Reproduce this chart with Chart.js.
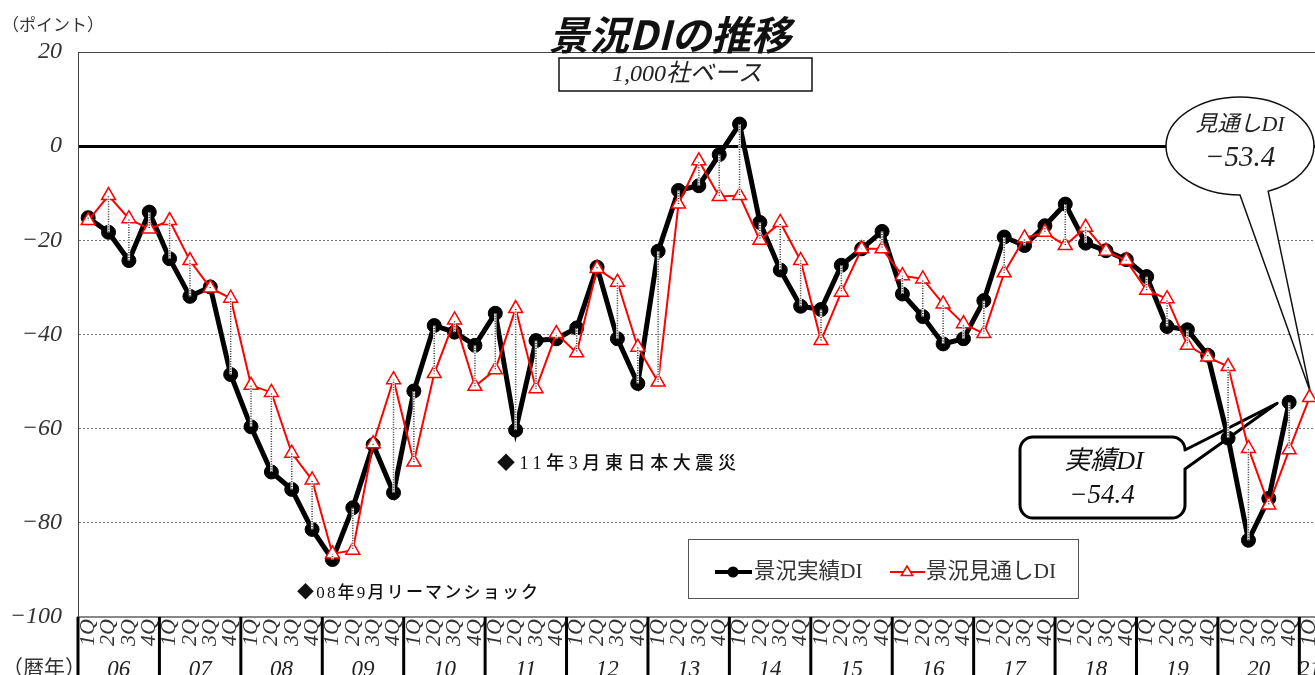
<!DOCTYPE html>
<html lang="ja">
<head>
<meta charset="utf-8">
<title>景況DIの推移</title>
<script src="https://cdn.jsdelivr.net/npm/chart.js@4/dist/chart.umd.min.js"></script>
<style>
  html, body { margin: 0; padding: 0; background: #fff; overflow: hidden; }
  #chart { display: block; }
</style>
</head>
<body>
<canvas id="chart" width="1338" height="675"></canvas>
<script>
// quarterly data, 2006 1Q .. 2021 1Q
const years = ['06', '07', '08', '09', '10', '11', '12', '13', '14', '15', '16', '17', '18', '19', '20', '21'];
const quarterNames = ['1Q', '2Q', '3Q', '4Q'];

const actualDI = [
  -15.2, -18.3, -24.3, -14.0,
  -23.9, -31.9, -29.9, -48.5,
  -59.6, -69.2, -72.9, -81.4,
  -87.8, -76.8, -63.4, -73.6,
  -52.0, -38.1, -39.5, -42.3,
  -35.5, -60.3, -41.3, -40.9,
  -38.6, -25.7, -40.9, -50.4,
  -22.3, -9.4, -8.4, -1.8,
  4.7, -16.2, -26.3, -34.0,
  -34.7, -25.3, -21.8, -18.1,
  -31.4, -36.2, -42.0, -40.9,
  -32.8, -19.3, -21.1, -16.9,
  -12.3, -20.6, -22.2, -24.1,
  -27.7, -38.3, -39.0, -44.4,
  -62.0, -83.7, -74.8, -54.4,
  null
];

const outlookDI = [
  -15.8, -10.5, -15.4, -17.6,
  -15.8, -24.3, -30.1, -32.3,
  -50.8, -52.3, -65.2, -70.9,
  -86.6, -85.8, -63.2, -49.6,
  -67.1, -48.3, -36.9, -51.0,
  -47.5, -34.5, -51.5, -39.8,
  -43.9, -26.0, -28.9, -42.7,
  -50.1, -12.3, -3.1, -10.7,
  -10.5, -20.0, -16.2, -24.3,
  -41.3, -31.0, -21.8, -21.8,
  -27.5, -28.2, -33.5, -37.7,
  -39.8, -26.9, -19.5, -18.3,
  -21.1, -17.2, -22.3, -24.3,
  -30.6, -32.4, -42.3, -44.8,
  -46.8, -64.2, -76.2, -64.5,
  -53.4
];

const yMin = -100;
const yMax = 20;
const yStep = 20;

const labels = outlookDI.map((v, i) => quarterNames[i % 4]);

const serifItalic = size => `italic ${size}px "Liberation Serif", "Noto Sans CJK JP", serif`;
const jpFont = (size, weight) => `${weight || 'normal'} ${size}px "Liberation Serif", "Noto Sans CJK JP", sans-serif`;

function drawText(ctx, text, x, y, font, align, color, spacing) {
  ctx.save();
  ctx.font = font;
  ctx.fillStyle = color || '#000';
  ctx.textAlign = align || 'center';
  ctx.textBaseline = 'middle';
  if (spacing) ctx.letterSpacing = spacing + 'px';
  ctx.fillText(text, x, y);
  ctx.restore();
}

function triangleMarker(ctx, x, y, r) {
  ctx.beginPath();
  ctx.moveTo(x, y - r);
  ctx.lineTo(x + r * 0.95, y + r * 0.6);
  ctx.lineTo(x - r * 0.95, y + r * 0.6);
  ctx.closePath();
  ctx.fillStyle = '#fff';
  ctx.fill();
  ctx.strokeStyle = '#ff0000';
  ctx.lineWidth = 1.5;
  ctx.stroke();
}

const callouts = {
  id: 'callouts',
  beforeDatasetsDraw(chart) {
    const ctx = chart.ctx;
    const xs = chart.scales.x;
    const ys = chart.scales.y;
    const last = outlookDI.length - 1;

    // outlook bubble (ellipse with tail)
    const tip1 = { x: xs.getPixelForValue(last) + 1, y: ys.getPixelForValue(outlookDI[last]) - 5 };
    const cx = 1240, cy = 146, rx = 74, ry = 49;
    ctx.save();
    ctx.beginPath();
    ctx.ellipse(cx, cy, rx, ry, 0, Math.PI / 2, 1.18);
    ctx.lineTo(tip1.x, tip1.y);
    ctx.closePath();
    ctx.fillStyle = '#fff';
    ctx.fill();
    ctx.strokeStyle = '#111';
    ctx.lineWidth = 1.5;
    ctx.stroke();
    ctx.restore();
    drawText(ctx, '見通しDI', cx, 125, serifItalic(22), 'center', '#222');
    drawText(ctx, '−53.4', cx, 158, serifItalic(29), 'center', '#222');

    // actual callout (rounded box with tail)
    const idx = actualDI.length - 2;
    const tip2 = { x: xs.getPixelForValue(idx) - 12, y: ys.getPixelForValue(actualDI[idx]) + 1 };
    const l = 1020, t = 437, r = 1185, b = 518, rad = 13;
    ctx.save();
    ctx.beginPath();
    ctx.moveTo(l + rad, t);
    ctx.lineTo(r - rad, t);
    ctx.arcTo(r, t, r, t + rad, rad);
    ctx.lineTo(r, t + rad);
    ctx.lineTo(tip2.x, tip2.y);
    ctx.lineTo(r, t + 32);
    ctx.lineTo(r, b - rad);
    ctx.arcTo(r, b, r - rad, b, rad);
    ctx.lineTo(l + rad, b);
    ctx.arcTo(l, b, l, b - rad, rad);
    ctx.lineTo(l, t + rad);
    ctx.arcTo(l, t, l + rad, t, rad);
    ctx.closePath();
    ctx.fillStyle = '#fff';
    ctx.fill();
    ctx.strokeStyle = '#000';
    ctx.lineWidth = 3;
    ctx.lineJoin = 'round';
    ctx.stroke();
    ctx.restore();
    drawText(ctx, '実績DI', 1104, 462, serifItalic(26), 'center', '#111');
    drawText(ctx, '−54.4', 1102, 496, serifItalic(27), 'center', '#111');
  }
};

const overlay = {
  id: 'overlay',
  afterDatasetsDraw(chart) {
    const ctx = chart.ctx;
    const xs = chart.scales.x;
    const ys = chart.scales.y;
    // dotted lines joining actual and outlook in each quarter
    ctx.save();
    outlookDI.forEach((v, i) => {
      const a = actualDI[i];
      if (a === null || v === null) return;
      const x = xs.getPixelForValue(i);
      const y1 = ys.getPixelForValue(a);
      const y2 = ys.getPixelForValue(v);
      ctx.beginPath();
      ctx.moveTo(x, y1);
      ctx.lineTo(x, y2);
      ctx.setLineDash([]);
      ctx.strokeStyle = 'rgba(255,255,255,0.9)';
      ctx.lineWidth = 2.5;
      ctx.stroke();
      ctx.setLineDash([1, 1.5]);
      ctx.strokeStyle = '#333';
      ctx.lineWidth = 1.5;
      ctx.stroke();
    });
    ctx.restore();
  },
  afterDraw(chart) {
    const ctx = chart.ctx;
    const xs = chart.scales.x;
    const area = chart.chartArea;
    const n = outlookDI.length;
    const half = (xs.getPixelForValue(1) - xs.getPixelForValue(0)) / 2;

    // year separators and year labels
    years.forEach((yr, k) => {
      const first = k * 4;
      if (first >= n) return;
      const lastQ = Math.min(first + 3, n - 1);
      const bx = xs.getPixelForValue(first) - half;
      ctx.save();
      ctx.beginPath();
      ctx.moveTo(bx, area.bottom);
      ctx.lineTo(bx, chart.height);
      ctx.strokeStyle = '#000';
      ctx.lineWidth = 3;
      ctx.stroke();
      ctx.restore();
      const cxYear = (xs.getPixelForValue(first) + xs.getPixelForValue(lastQ)) / 2;
      drawText(ctx, yr, cxYear, 670, serifItalic(23), 'center', '#222');
    });

    // axis captions
    drawText(ctx, '（ポイント）', 2, 27, jpFont(17), 'left', '#333');
    drawText(ctx, '（暦年）', 2, 669, jpFont(21), 'left', '#333');

    // title and subtitle box
    drawText(ctx, '景況DIの推移', 670, 35, 'italic bold 40px "Noto Sans CJK JP", sans-serif', 'center', '#111');
    ctx.save();
    ctx.fillStyle = '#fff';
    ctx.fillRect(559, 58, 253, 33);
    ctx.strokeStyle = '#111';
    ctx.lineWidth = 1.5;
    ctx.strokeRect(559, 58, 253, 33);
    ctx.restore();
    drawText(ctx, '1,000社ベース', 687, 75, serifItalic(24), 'center', '#222');

    // event notes
    drawText(ctx, '◆08年9月リーマンショック', 297, 594, jpFont(17, 500), 'left', '#111', 2.2);
    drawText(ctx, '◆11年3月東日本大震災', 497, 464, jpFont(18, 500), 'left', '#111', 4.6);

    // legend
    ctx.save();
    ctx.fillStyle = '#fff';
    ctx.fillRect(688, 539, 390, 59);
    ctx.strokeStyle = '#555';
    ctx.lineWidth = 1;
    ctx.strokeRect(688.5, 539.5, 390, 59);
    ctx.beginPath();
    ctx.moveTo(715, 572);
    ctx.lineTo(752, 572);
    ctx.strokeStyle = '#000';
    ctx.lineWidth = 4;
    ctx.stroke();
    ctx.beginPath();
    ctx.arc(733, 572, 5.5, 0, Math.PI * 2);
    ctx.fillStyle = '#000';
    ctx.fill();
    ctx.beginPath();
    ctx.moveTo(890, 572);
    ctx.lineTo(925, 572);
    ctx.strokeStyle = '#ff0000';
    ctx.lineWidth = 2;
    ctx.stroke();
    triangleMarker(ctx, 907, 572, 6);
    ctx.restore();
    drawText(ctx, '景況実績DI', 754, 572, jpFont(21.5), 'left', '#333');
    drawText(ctx, '景況見通しDI', 926, 572, jpFont(21.5), 'left', '#333');
  }
};

const ctx = document.getElementById('chart').getContext('2d');
const myChart = new Chart(ctx, {
  type: 'line',
  data: {
    labels: labels,
    datasets: [
      {
        label: '景況実績DI',
        data: actualDI,
        borderColor: '#000',
        backgroundColor: '#000',
        borderWidth: 5,
        pointRadius: 7,
        pointBackgroundColor: '#000',
        pointBorderColor: '#000',
        pointBorderWidth: 1,
        tension: 0,
        spanGaps: false,
        order: 2
      },
      {
        label: '景況見通しDI',
        data: outlookDI,
        borderColor: '#ff0000',
        backgroundColor: '#fff',
        borderWidth: 2,
        pointStyle: 'triangle',
        pointRadius: 8,
        pointBackgroundColor: '#fff',
        pointBorderColor: '#ff0000',
        pointBorderWidth: 1.5,
        tension: 0,
        order: 1
      }
    ]
  },
  options: {
    responsive: false,
    animation: false,
    events: [],
    layout: { padding: { top: 52, left: 0, right: 0, bottom: 0 } },
    plugins: {
      legend: { display: false },
      tooltip: { enabled: false }
    },
    scales: {
      x: {
        type: 'category',
        offset: true,
        grid: { display: false, drawTicks: false },
        border: { display: true, color: '#888', width: 1.5 },
        ticks: {
          autoSkip: false,
          minRotation: 90,
          maxRotation: 90,
          padding: 2,
          color: '#333',
          font: { family: '"Liberation Serif", serif', style: 'italic', size: 22 }
        },
        afterFit(scale) { scale.height = 58; }
      },
      y: {
        min: yMin,
        max: yMax,
        ticks: {
          stepSize: yStep,
          padding: 16,
          color: '#333',
          font: { family: '"Liberation Serif", serif', style: 'italic', size: 24 },
          callback: v => (v < 0 ? '−' + (-v) : String(v))
        },
        grid: {
          drawTicks: false,
          color: c => {
            if (!c.tick) return '#555';
            if (c.tick.value === 0) return '#000';
            if (c.tick.value === yMax) return '#444';
            if (c.tick.value === yMin) return '#888';
            return '#777';
          },
          lineWidth: c => {
            if (!c.tick) return 1;
            if (c.tick.value === 0) return 3;
            return 1;
          }
        },
        border: {
          color: '#444',
          width: 1,
          dash: c => {
            if (!c.tick) return [];
            const v = c.tick.value;
            return (v === 0 || v === yMax || v === yMin) ? [] : [2, 2];
          }
        },
        afterFit(scale) { scale.width = 78; }
      }
    }
  },
  plugins: [callouts, overlay]
});
</script>
</body>
</html>
